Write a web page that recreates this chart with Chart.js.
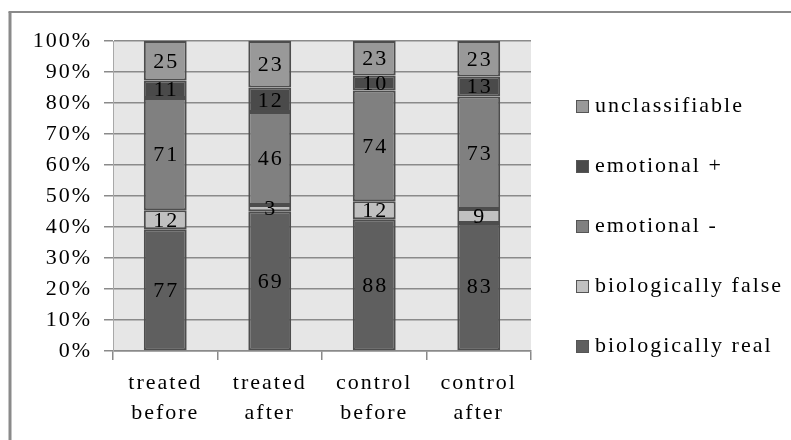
<!DOCTYPE html>
<html>
<head>
<meta charset="utf-8">
<script src="https://cdn.jsdelivr.net/npm/chart.js@4.4.0/dist/chart.umd.min.js"></script>
<style>
  html, body { margin: 0; padding: 0; background: #ffffff; font-family: "Liberation Serif", "Times New Roman", serif; }
  #wrap { width: 791px; height: 440px; position: relative; }
</style>
</head>
<body>
<div id="wrap"><canvas id="c" width="791" height="440"></canvas></div>
<script>
const categories = [['treated', 'before'], ['treated', 'after'], ['control', 'before'], ['control', 'after']];
const seriesNames = ['biologically real', 'biologically false', 'emotional -', 'emotional +', 'unclassifiable'];
const biologicallyReal = [77, 69, 88, 83];
const biologicallyFalse = [12, 3, 12, 9];
const emotionalNeg = [71, 46, 74, 73];
const emotionalPos = [11, 12, 10, 13];
const unclassifiable = [25, 23, 23, 23];
const yTickValues = [0, 10, 20, 30, 40, 50, 60, 70, 80, 90, 100];

const counts = [biologicallyReal, biologicallyFalse, emotionalNeg, emotionalPos, unclassifiable];
const colors = ['#5f5f5f', '#c0c0c0', '#808080', '#4a4a4a', '#999999'];
const totals = categories.map((_, i) => counts.reduce((s, arr) => s + arr[i], 0));

const FONT = '"Liberation Serif", "Times New Roman", Times, serif';
const LS = '2px';

const spacingPlugin = {
  id: 'spacing',
  beforeUpdate(chart) { chart.ctx.letterSpacing = LS; },
  beforeLayout(chart) { chart.ctx.letterSpacing = LS; },
  beforeDraw(chart) { chart.ctx.letterSpacing = LS; }
};

const framePlugin = {
  id: 'frame',
  beforeDraw(chart) {
    const ctx = chart.ctx;
    const a = chart.chartArea;
    ctx.save();
    ctx.fillStyle = '#ffffff';
    ctx.fillRect(0, 0, chart.width, chart.height);
    ctx.strokeStyle = '#8a8a8a';
    ctx.lineWidth = 3;
    ctx.beginPath();
    ctx.moveTo(10, 440);
    ctx.lineTo(10, 12);
    ctx.stroke();
    ctx.lineWidth = 2;
    ctx.beginPath();
    ctx.moveTo(8.5, 12);
    ctx.lineTo(791, 12);
    ctx.stroke();
    ctx.fillStyle = '#e6e6e6';
    ctx.fillRect(a.left, a.top, a.right - a.left, a.bottom - a.top);
    ctx.restore();
  }
};

const labelPlugin = {
  id: 'countLabels',
  afterDatasetsDraw(chart) {
    const ctx = chart.ctx;
    ctx.save();
    ctx.letterSpacing = LS;
    ctx.font = '22px ' + FONT;
    ctx.fillStyle = '#000000';
    ctx.textAlign = 'center';
    ctx.textBaseline = 'middle';
    chart.data.datasets.forEach((ds, di) => {
      const meta = chart.getDatasetMeta(di);
      meta.data.forEach((bar, i) => {
        const yMid = (bar.y + bar.base) / 2;
        ctx.fillText(String(ds.counts[i]), bar.x + 1, yMid + 1);
      });
    });
    ctx.restore();
  }
};

const legendPlugin = {
  id: 'sideLegend',
  afterDraw(chart) {
    const ctx = chart.ctx;
    const a = chart.chartArea;
    const ds = chart.data.datasets.slice().reverse();
    const boxX = a.right + 45;
    const step = 60;
    const firstY = 106;
    ctx.save();
    ctx.letterSpacing = LS;
    ctx.font = '22px ' + FONT;
    ctx.textAlign = 'left';
    ctx.textBaseline = 'middle';
    ds.forEach((d, i) => {
      const cy = firstY + i * step;
      ctx.fillStyle = d.backgroundColor;
      ctx.fillRect(boxX, cy - 6, 13, 13);
      ctx.strokeStyle = '#555555';
      ctx.lineWidth = 1;
      ctx.strokeRect(boxX + 0.5, cy - 5.5, 12, 12);
      ctx.fillStyle = '#000000';
      ctx.fillText(d.label, boxX + 19, cy);
    });
    ctx.restore();
  }
};

const datasets = seriesNames.map((name, k) => ({
  label: name,
  counts: counts[k],
  data: counts[k].map((v, i) => v / totals[i] * 100),
  backgroundColor: colors[k],
  borderColor: '#4d4d4d',
  borderWidth: 2,
  borderSkipped: false,
  barPercentage: 0.41,
  categoryPercentage: 1.0
}));

function build() {
  new Chart(document.getElementById('c'), {
    type: 'bar',
    data: { labels: categories, datasets: datasets },
    plugins: [spacingPlugin, framePlugin, labelPlugin, legendPlugin],
    options: {
      responsive: false,
      animation: false,
      devicePixelRatio: 1,
      layout: { padding: { left: 10, top: 41, right: 260, bottom: 0 } },
      plugins: {
        tooltip: { enabled: false },
        legend: { display: false }
      },
      scales: {
        x: {
          stacked: true,
          afterFit(s) { s.height = 89; },
          grid: { offset: true, drawOnChartArea: false, drawTicks: true, tickLength: 9, color: '#8a8a8a', lineWidth: 1.5 },
          border: { display: true, color: '#8a8a8a', width: 1.5 },
          ticks: { color: '#000000', font: { family: FONT, size: 22, lineHeight: 1.36 }, padding: 8, maxRotation: 0, autoSkip: false }
        },
        y: {
          stacked: true,
          min: 0,
          max: 100,
          afterFit(s) { s.width = 103; },
          afterBuildTicks(s) { s.ticks = yTickValues.map(v => ({ value: v })); },
          grid: { color: '#8a8a8a', lineWidth: 1.5, tickLength: 9 },
          border: { display: true, color: '#a8a8a8', width: 1 },
          ticks: { color: '#000000', font: { family: FONT, size: 22 }, padding: 12, callback: v => v + '%' }
        }
      }
    }
  });
}

const fontReady = (document.fonts && document.fonts.load)
  ? Promise.all([document.fonts.load('22px "Liberation Serif"'), document.fonts.load('22px "Times New Roman"')]).catch(() => null)
  : Promise.resolve();
fontReady.then(build, build);
</script>
</body>
</html>
